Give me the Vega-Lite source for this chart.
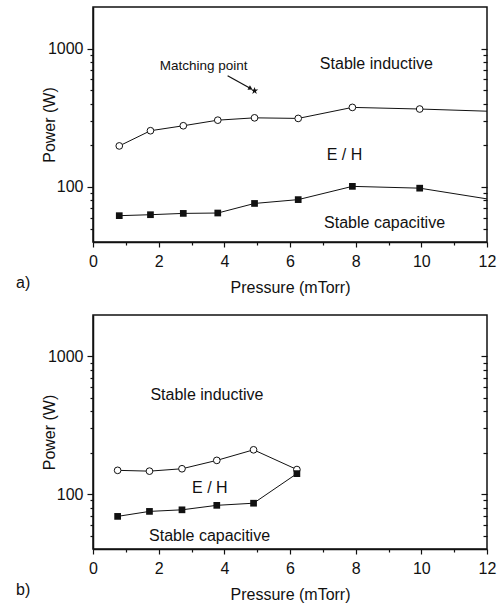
{
  "$schema": "https://vega.github.io/schema/vega-lite/v6.json",
  "padding": {"left": 15, "top": 6, "right": 5, "bottom": 4},
  "spacing": 18,
  "config": {
    "font": "Liberation Sans",
    "view": {"stroke": "#111", "strokeWidth": 1.5},
    "axis": {
      "grid": false,
      "labelFontSize": 16,
      "titleFontSize": 16,
      "titleFontWeight": "normal",
      "labelColor": "#111",
      "titleColor": "#111",
      "domainColor": "#111",
      "tickColor": "#111",
      "domainWidth": 1.5,
      "tickWidth": 1.2
    },
    "title": {"fontSize": 16, "fontWeight": "normal", "color": "#111"}
  },
  "datasets": {
    "seriesA": [
      {"p": 0.8, "w": 198, "series": "inductive", "marker": true},
      {"p": 1.75, "w": 255, "series": "inductive", "marker": true},
      {"p": 2.75, "w": 277, "series": "inductive", "marker": true},
      {"p": 3.8, "w": 304, "series": "inductive", "marker": true},
      {"p": 4.92, "w": 316, "series": "inductive", "marker": true},
      {"p": 6.25, "w": 313, "series": "inductive", "marker": true},
      {"p": 7.9, "w": 376, "series": "inductive", "marker": true},
      {"p": 9.95, "w": 366, "series": "inductive", "marker": true},
      {"p": 12, "w": 353, "series": "inductive", "marker": false},
      {"p": 0.8, "w": 62, "series": "capacitive", "marker": true},
      {"p": 1.75, "w": 63, "series": "capacitive", "marker": true},
      {"p": 2.75, "w": 64.4, "series": "capacitive", "marker": true},
      {"p": 3.8, "w": 64.8, "series": "capacitive", "marker": true},
      {"p": 4.92, "w": 76, "series": "capacitive", "marker": true},
      {"p": 6.25, "w": 81, "series": "capacitive", "marker": true},
      {"p": 7.9, "w": 101, "series": "capacitive", "marker": true},
      {"p": 9.95, "w": 98, "series": "capacitive", "marker": true},
      {"p": 12, "w": 82, "series": "capacitive", "marker": false}
    ],
    "seriesB": [
      {"p": 0.75, "w": 149, "series": "inductive", "marker": true},
      {"p": 1.72, "w": 147, "series": "inductive", "marker": true},
      {"p": 2.71, "w": 153, "series": "inductive", "marker": true},
      {"p": 3.77, "w": 176, "series": "inductive", "marker": true},
      {"p": 4.89, "w": 210, "series": "inductive", "marker": true},
      {"p": 6.21, "w": 151, "series": "inductive", "marker": true},
      {"p": 0.75, "w": 69, "series": "capacitive", "marker": true},
      {"p": 1.72, "w": 75, "series": "capacitive", "marker": true},
      {"p": 2.71, "w": 77, "series": "capacitive", "marker": true},
      {"p": 3.77, "w": 83, "series": "capacitive", "marker": true},
      {"p": 4.89, "w": 86, "series": "capacitive", "marker": true},
      {"p": 6.21, "w": 141, "series": "capacitive", "marker": true}
    ],
    "labelsA": [
      {"p": 8.63, "w": 774, "label": "Stable inductive"},
      {"p": 7.66, "w": 171, "label": "E / H"},
      {"p": 8.88, "w": 55, "label": "Stable capacitive"}
    ],
    "labelsB": [
      {"p": 3.47, "w": 523, "label": "Stable inductive"},
      {"p": 3.56, "w": 110, "label": "E / H"},
      {"p": 3.55, "w": 50, "label": "Stable capacitive"}
    ],
    "matching": [
      {"p": 3.37, "w": 753, "label": "Matching point"}
    ],
    "arrow": [
      {"p": 4.1, "w": 637, "p2": 4.8, "w2": 515}
    ],
    "star": [
      {"p": 4.92, "w": 496}
    ]
  },
  "vconcat": [
    {
      "width": 394,
      "height": 235,
      "title": {"text": "a)", "orient": "bottom", "anchor": "start", "frame": "group", "dx": -77, "offset": -20},
      "resolve": {"axis": {"x": "independent", "y": "independent"}},
      "layer": [
        {
          "data": {"name": "seriesA"},
          "mark": {"type": "line", "color": "#111", "strokeWidth": 1},
          "encoding": {
            "x": {"field": "p", "type": "quantitative", "scale": {"domain": [0, 12], "nice": false},
              "title": "Pressure (mTorr)",
              "axis": {"orient": "bottom", "values": [0, 2, 4, 6, 8, 10, 12], "tickSize": 5, "labelPadding": 6, "titlePadding": 10, "labelFlush": false}},
            "y": {"field": "w", "type": "quantitative", "scale": {"type": "log", "domain": [40, 2000], "nice": false},
              "title": "Power (W)",
              "axis": {"orient": "left", "values": [100, 1000], "format": "d", "tickSize": 6, "labelPadding": 4, "titlePadding": -10}},
            "detail": {"field": "series"}
          }
        },
        {
          "data": {"name": "seriesA"},
          "transform": [{"filter": "datum.marker && datum.series == 'inductive'"}],
          "mark": {"type": "point", "shape": "circle", "filled": true, "fill": "white", "stroke": "#111", "strokeWidth": 1, "size": 45, "opacity": 1},
          "encoding": {
            "x": {"field": "p", "type": "quantitative",
              "axis": {"orient": "bottom", "values": [1, 3, 5, 7, 9, 11], "tickSize": 3, "labels": false, "domain": false, "title": null}},
            "y": {"field": "w", "type": "quantitative",
              "axis": {"orient": "left", "values": [50, 60, 70, 80, 90, 200, 300, 400, 500, 600, 700, 800, 900], "tickSize": 3, "labels": false, "domain": false, "title": null}}
          }
        },
        {
          "data": {"name": "seriesA"},
          "transform": [{"filter": "datum.marker && datum.series == 'capacitive'"}],
          "mark": {"type": "point", "shape": "square", "filled": true, "color": "#111", "size": 45, "opacity": 1},
          "encoding": {
            "x": {"field": "p", "type": "quantitative", "axis": null},
            "y": {"field": "w", "type": "quantitative",
              "axis": {"orient": "right", "values": [50, 60, 70, 80, 90, 200, 300, 400, 500, 600, 700, 800, 900], "tickSize": -4, "labels": false, "domain": false, "title": null}}
          }
        },
        {
          "data": {"name": "labelsA"},
          "mark": {"type": "text", "fontSize": 16, "color": "#111", "align": "center", "baseline": "middle"},
          "encoding": {
            "x": {"field": "p", "type": "quantitative", "axis": null},
            "y": {"field": "w", "type": "quantitative",
              "axis": {"orient": "right", "values": [100, 1000], "tickSize": -6, "labels": false, "domain": false, "title": null}},
            "text": {"field": "label"}
          }
        },
        {
          "data": {"name": "matching"},
          "mark": {"type": "text", "fontSize": 13.5, "color": "#111", "align": "center", "baseline": "middle"},
          "encoding": {
            "x": {"field": "p", "type": "quantitative", "axis": null},
            "y": {"field": "w", "type": "quantitative", "axis": null},
            "text": {"field": "label"}
          }
        },
        {
          "data": {"name": "arrow"},
          "mark": {"type": "rule", "color": "#111", "strokeWidth": 1.2},
          "encoding": {
            "x": {"field": "p", "type": "quantitative", "axis": null},
            "y": {"field": "w", "type": "quantitative", "axis": null},
            "x2": {"field": "p2"},
            "y2": {"field": "w2"}
          }
        },
        {
          "data": {"name": "arrow"},
          "mark": {"type": "point", "shape": "triangle-right", "filled": true, "color": "#111", "size": 25, "angle": 29, "opacity": 1},
          "encoding": {
            "x": {"field": "p2", "type": "quantitative", "axis": null},
            "y": {"field": "w2", "type": "quantitative", "axis": null}
          }
        },
        {
          "data": {"name": "star"},
          "mark": {"type": "point", "shape": "M0,-1L0.2245,-0.309L0.951,-0.309L0.363,0.118L0.588,0.809L0,0.382L-0.588,0.809L-0.363,0.118L-0.951,-0.309L-0.2245,-0.309Z", "filled": true, "color": "#111", "size": 60, "opacity": 1},
          "encoding": {
            "x": {"field": "p", "type": "quantitative", "axis": null},
            "y": {"field": "w", "type": "quantitative", "axis": null}
          }
        }
      ]
    },
    {
      "width": 394,
      "height": 234,
      "title": {"text": "b)", "orient": "bottom", "anchor": "start", "frame": "group", "dx": -77, "offset": -20},
      "resolve": {"axis": {"x": "independent", "y": "independent"}},
      "layer": [
        {
          "data": {"name": "seriesB"},
          "mark": {"type": "line", "color": "#111", "strokeWidth": 1},
          "encoding": {
            "x": {"field": "p", "type": "quantitative", "scale": {"domain": [0, 12], "nice": false},
              "title": "Pressure (mTorr)",
              "axis": {"orient": "bottom", "values": [0, 2, 4, 6, 8, 10, 12], "tickSize": 5, "labelPadding": 6, "titlePadding": 10, "labelFlush": false}},
            "y": {"field": "w", "type": "quantitative", "scale": {"type": "log", "domain": [40, 2000], "nice": false},
              "title": "Power (W)",
              "axis": {"orient": "left", "values": [100, 1000], "format": "d", "tickSize": 6, "labelPadding": 4, "titlePadding": -10}},
            "detail": {"field": "series"}
          }
        },
        {
          "data": {"name": "seriesB"},
          "transform": [{"filter": "datum.marker && datum.series == 'inductive'"}],
          "mark": {"type": "point", "shape": "circle", "filled": true, "fill": "white", "stroke": "#111", "strokeWidth": 1, "size": 45, "opacity": 1},
          "encoding": {
            "x": {"field": "p", "type": "quantitative",
              "axis": {"orient": "bottom", "values": [1, 3, 5, 7, 9, 11], "tickSize": 3, "labels": false, "domain": false, "title": null}},
            "y": {"field": "w", "type": "quantitative",
              "axis": {"orient": "left", "values": [50, 60, 70, 80, 90, 200, 300, 400, 500, 600, 700, 800, 900], "tickSize": 3, "labels": false, "domain": false, "title": null}}
          }
        },
        {
          "data": {"name": "seriesB"},
          "transform": [{"filter": "datum.marker && datum.series == 'capacitive'"}],
          "mark": {"type": "point", "shape": "square", "filled": true, "color": "#111", "size": 45, "opacity": 1},
          "encoding": {
            "x": {"field": "p", "type": "quantitative", "axis": null},
            "y": {"field": "w", "type": "quantitative",
              "axis": {"orient": "right", "values": [50, 60, 70, 80, 90, 200, 300, 400, 500, 600, 700, 800, 900], "tickSize": -4, "labels": false, "domain": false, "title": null}}
          }
        },
        {
          "data": {"name": "labelsB"},
          "mark": {"type": "text", "fontSize": 16, "color": "#111", "align": "center", "baseline": "middle"},
          "encoding": {
            "x": {"field": "p", "type": "quantitative", "axis": null},
            "y": {"field": "w", "type": "quantitative",
              "axis": {"orient": "right", "values": [100, 1000], "tickSize": -6, "labels": false, "domain": false, "title": null}},
            "text": {"field": "label"}
          }
        }
      ]
    }
  ]
}
